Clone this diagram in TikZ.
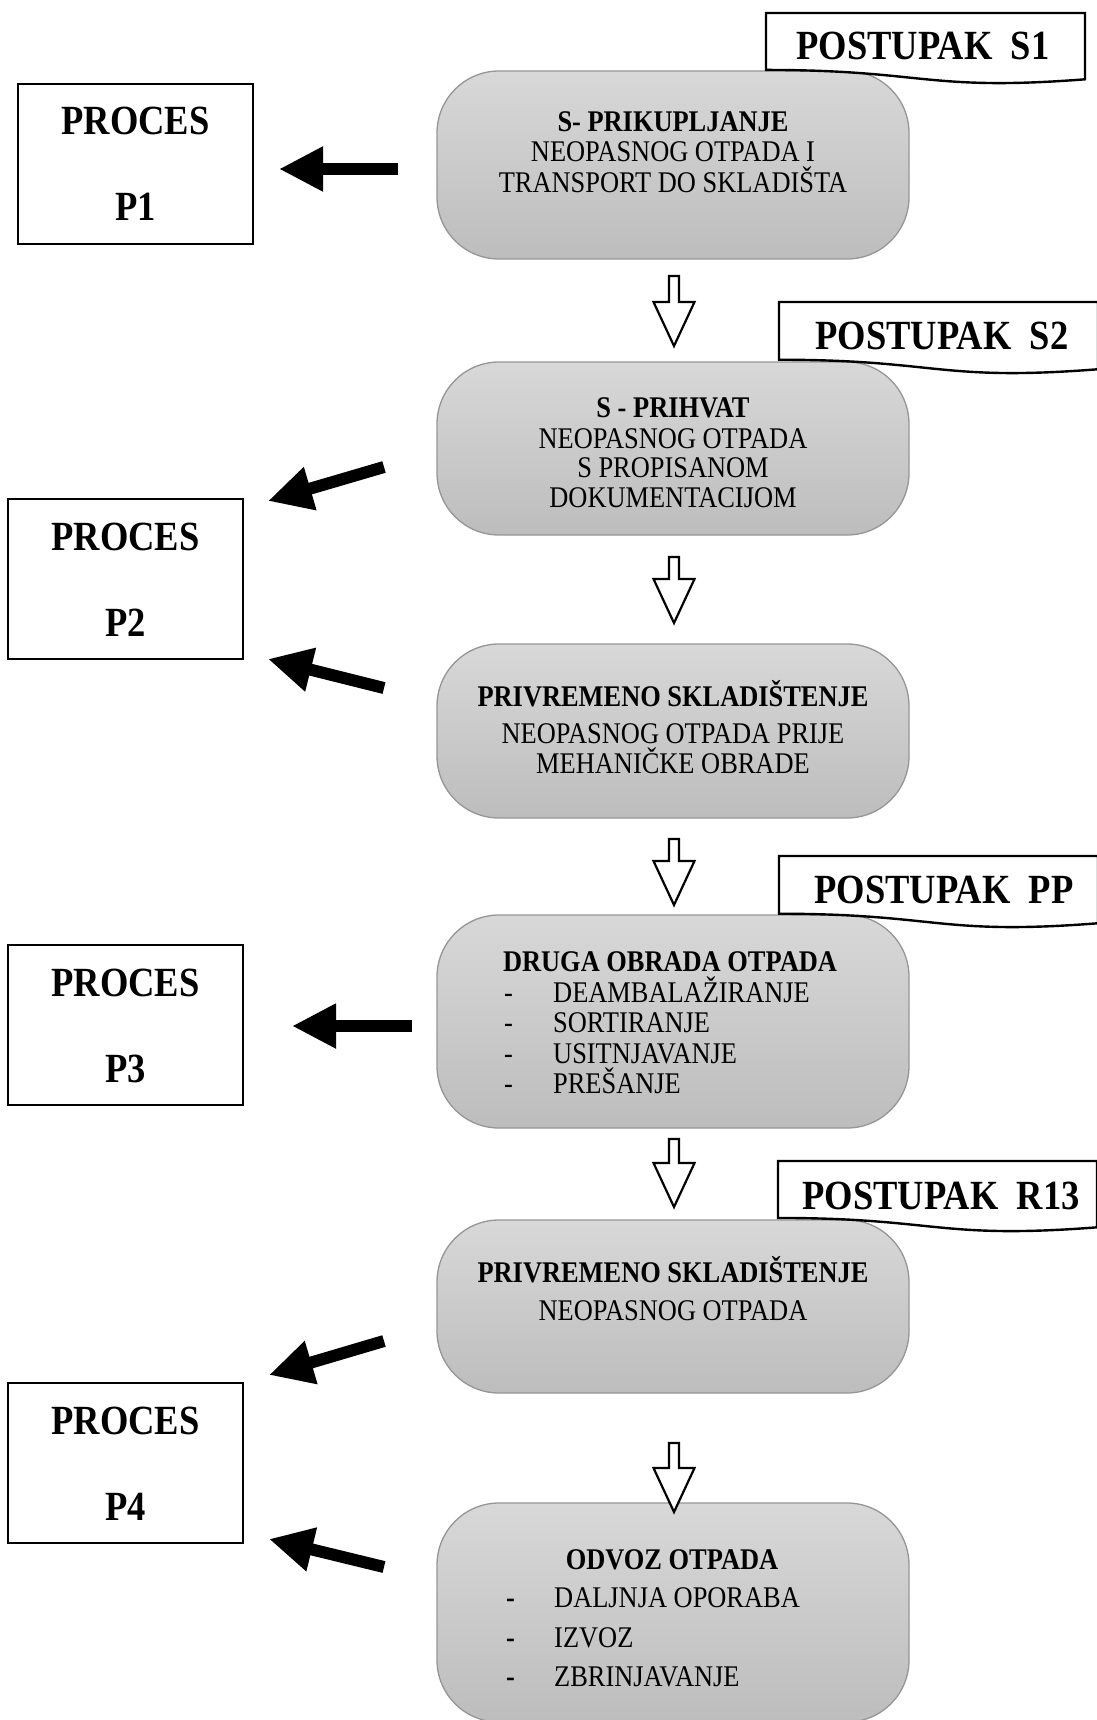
\documentclass[tikz,border=0pt]{standalone}
\usepackage{fontspec}
\setmainfont{Liberation Serif}[FakeStretch=0.88]
\usetikzlibrary{arrows.meta}
\definecolor{boxtop}{RGB}{216,216,216}
\definecolor{boxbot}{RGB}{189,189,189}
\definecolor{boxline}{RGB}{150,150,150}
\newcommand\docshape[4]{% x0, x1, top, h
  \draw[lbl] (#1,#3) -- (#2,#3) -- (#2,{#3+0.934*#4})
    .. controls ({(#1+#2)/2},{#3+1.107*#4}) and ({(#1+#2)/2},{#3+0.802*#4}) .. (#1,{#3+0.802*#4}) -- cycle;}
\newcommand\blockarrow[3]{% x, top, tip
  \draw[hollowarrow] ({#1-5},#2) -- ({#1+5},#2) -- ({#1+5},{#3-44}) -- ({#1+20.5},{#3-44})
    -- (#1,#3) -- ({#1-20.5},{#3-44}) -- ({#1-5},{#3-44}) -- cycle;}
\begin{document}
\begin{tikzpicture}[x=1pt,y=-1pt,
  graybox/.style={draw=boxline, line width=1.3pt, rounded corners=62pt, top color=boxtop, bottom color=boxbot, minimum width=472pt, inner sep=0pt},
  procbox/.style={draw=black, line width=2pt, fill=white, minimum width=235pt, minimum height=160pt, inner sep=0pt},
  lbl/.style={draw=black, line width=2.4pt, fill=white, line join=miter},
  hollowarrow/.style={draw=black, line width=2.2pt, fill=white, line join=miter},
  fatarrow/.style={line width=12pt, -{Triangle[length=44pt,width=42pt]}},
  txt/.style={inner sep=0pt, anchor=base, font=\fontsize{30}{30}\selectfont},
  ltxt/.style={inner sep=0pt, anchor=base west, font=\fontsize{30}{30}\selectfont},
  bigtxt/.style={inner sep=0pt, anchor=base, font=\fontsize{41.5}{42}\selectfont\bfseries},
]
\useasboundingbox[fill=white] (0,0) rectangle (1096,1720);

% gray process boxes
\node[graybox, minimum height=188pt] (b1) at (673,165) {};
\node[graybox, minimum height=173pt] (b2) at (673,448.5) {};
\node[graybox, minimum height=174pt] (b3) at (673,731) {};
\node[graybox, minimum height=213pt] (b4) at (673,1021.5) {};
\node[graybox, minimum height=173pt] (b5) at (673,1306.5) {};
\node[graybox, minimum height=219pt] (b6) at (673,1612.5) {};

% POSTUPAK labels
\docshape{766}{1085}{13}{71}
\docshape{779}{1098}{302}{72}
\docshape{779}{1098}{856}{72}
\docshape{778}{1097}{1161}{71}
\node[bigtxt] (l1) at (923,60) {POSTUPAK~ S1};
\node[bigtxt] (l2) at (942,349) {POSTUPAK~ S2};
\node[bigtxt] (l3) at (944,903) {POSTUPAK~ PP};
\node[bigtxt] (l4) at (941,1209) {POSTUPAK~ R13};

% PROCES boxes
\node[procbox] (p1) at (135.5,164) {};
\node[procbox] (p2) at (125.5,579) {};
\node[procbox] (p3) at (125.5,1024.5) {};
\node[procbox] (p4) at (125.5,1462.5) {};
\node[bigtxt] (p1a) at (135.5,135) {PROCES};
\node[bigtxt] (p1b) at (135.5,221) {P1};
\node[bigtxt] (p2a) at (125.5,550) {PROCES};
\node[bigtxt] (p2b) at (125.5,636) {P2};
\node[bigtxt] (p3a) at (125.5,996) {PROCES};
\node[bigtxt] (p3b) at (125.5,1082) {P3};
\node[bigtxt] (p4a) at (125.5,1434) {PROCES};
\node[bigtxt] (p4b) at (125.5,1520) {P4};

% box texts
\node[txt] (t11) at (673,132) {\bfseries S- PRIKUPLJANJE};
\node[txt] (t12) at (673,162) {NEOPASNOG OTPADA I};
\node[txt] (t13) at (673,193) {TRANSPORT DO SKLADIŠTA};

\node[txt] (t21) at (673,417) {\bfseries S - PRIHVAT};
\node[txt] (t22) at (673,448) {NEOPASNOG OTPADA};
\node[txt] (t23) at (673,477) {S PROPISANOM};
\node[txt] (t24) at (673,507) {DOKUMENTACIJOM};

\node[txt] (t31) at (673,706) {\bfseries PRIVREMENO SKLADIŠTENJE};
\node[txt] (t32) at (673,743) {NEOPASNOG OTPADA PRIJE};
\node[txt] (t33) at (673,773) {MEHANIČKE OBRADE};

\node[txt] (t41) at (670,971) {\bfseries DRUGA OBRADA OTPADA};
\node[ltxt] (d42) at (504,1002) {-};
\node[ltxt] (t42) at (553,1002) {DEAMBALAŽIRANJE};
\node[ltxt] (d43) at (504,1032) {-};
\node[ltxt] (t43) at (553,1032) {SORTIRANJE};
\node[ltxt] (d44) at (504,1063) {-};
\node[ltxt] (t44) at (553,1063) {USITNJAVANJE};
\node[ltxt] (d45) at (504,1093) {-};
\node[ltxt] (t45) at (553,1093) {PREŠANJE};

\node[txt] (t51) at (673,1282) {\bfseries PRIVREMENO SKLADIŠTENJE};
\node[txt] (t52) at (673,1320) {NEOPASNOG OTPADA};

\node[txt] (t61) at (672,1569) {\bfseries ODVOZ OTPADA};
\node[ltxt] (d62) at (506,1607) {\bfseries -};
\node[ltxt] (t62) at (554,1607) {DALJNJA OPORABA};
\node[ltxt] (d63) at (506,1647) {\bfseries -};
\node[ltxt] (t63) at (554,1647) {IZVOZ};
\node[ltxt] (d64) at (506,1686) {\bfseries -};
\node[ltxt] (t64) at (554,1686) {ZBRINJAVANJE};

% hollow block arrows between steps
\blockarrow{674}{276}{346}
\blockarrow{674}{557}{623}
\blockarrow{674}{839}{905}
\blockarrow{674}{1139}{1207}
\blockarrow{674}{1443}{1512}

% black arrows towards processes
\coordinate (a1s) at (398,169);  \coordinate (a1e) at (279,169);
\coordinate (a2s) at (384,467);  \coordinate (a2e) at (268,501);
\coordinate (a3s) at (384,688);  \coordinate (a3e) at (268,659);
\coordinate (a4s) at (412,1026); \coordinate (a4e) at (292,1026);
\coordinate (a5s) at (384,1341); \coordinate (a5e) at (269,1375);
\coordinate (a6s) at (384,1567); \coordinate (a6e) at (269,1539);
\draw[fatarrow] (a1s) -- (a1e);
\draw[fatarrow] (a2s) -- (a2e);
\draw[fatarrow] (a3s) -- (a3e);
\draw[fatarrow] (a4s) -- (a4e);
\draw[fatarrow] (a5s) -- (a5e);
\draw[fatarrow] (a6s) -- (a6e);
\end{tikzpicture}
\end{document}
